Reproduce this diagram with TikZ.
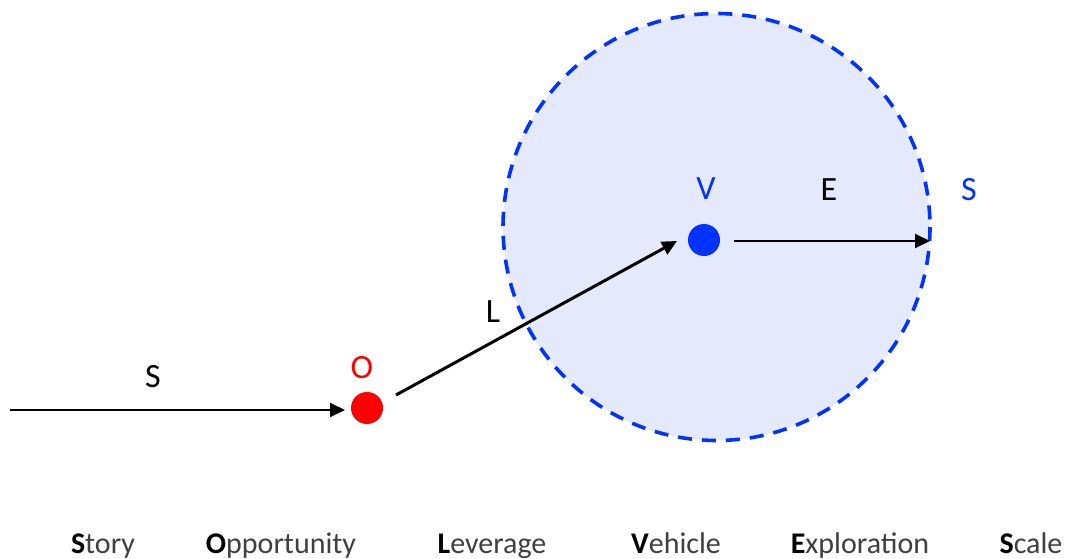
\documentclass[tikz,border=0pt]{standalone}
\usepackage{fontspec}
\setmainfont{Carlito}
\usetikzlibrary{arrows.meta}
\definecolor{vblue}{HTML}{0033FF}
\definecolor{fillblue}{HTML}{E4E9FC}
\definecolor{ored}{HTML}{FF0000}
\definecolor{txtgray}{HTML}{3F3F3F}
\begin{document}
\begin{tikzpicture}[x=1pt,y=-1pt,
  dot/.style={circle,inner sep=0pt,minimum size=32pt},
  lbl/.style={font=\fontsize{34}{38}\selectfont},
  word/.style={font=\fontsize{30}{33}\selectfont,text=txtgray,anchor=base},
  arr/.style={-{Triangle[length=15pt,width=14pt]}}]
\useasboundingbox (0,0) rectangle (1070,559);
% circle
\draw[vblue,fill=fillblue,line width=3.6pt,dash pattern=on 14pt off 10pt] (716.5,227) circle (213.5);
\node[dot,fill=ored] (O) at (367,408) {};
\node[dot,fill=vblue] (V) at (704,240) {};
\coordinate (Sstart) at (10,410);
\coordinate (Send) at (345,410);
\coordinate (Eend) at (930,241);
\coordinate (Vr) at (734,241);
\coordinate (Lstart) at (396,395);
\coordinate (Lend) at (677,241);
\draw[arr,line width=2pt] (Sstart) -- (Send);
\draw[arr,line width=3pt] (Lstart) -- (Lend);
\draw[arr,line width=2pt] (Vr) -- (Eend);
% labels
\node[lbl] (lS) at (153,377) {S};
\node[lbl,text=ored] (lO) at (362,368) {O};
\node[lbl] (lL) at (493,312) {L};
\node[lbl,text=vblue] (lV) at (706,189) {V};
\node[lbl] (lE) at (829,190) {E};
\node[lbl,text=vblue] (lS2) at (969,190) {S};
% bottom words
\node[word] (w1) at (103,553) {\textbf{\color{black}S}tory};
\node[word] (w2) at (281,553) {\textbf{\color{black}O}pportunity};
\node[word] (w3) at (492,553) {\textbf{\color{black}L}everage};
\node[word] (w4) at (676,553) {\textbf{\color{black}V}ehicle};
\node[word] (w5) at (860,553) {\textbf{\color{black}E}xploration};
\node[word] (w6) at (1031,553) {\textbf{\color{black}S}cale};
\end{tikzpicture}
\end{document}
